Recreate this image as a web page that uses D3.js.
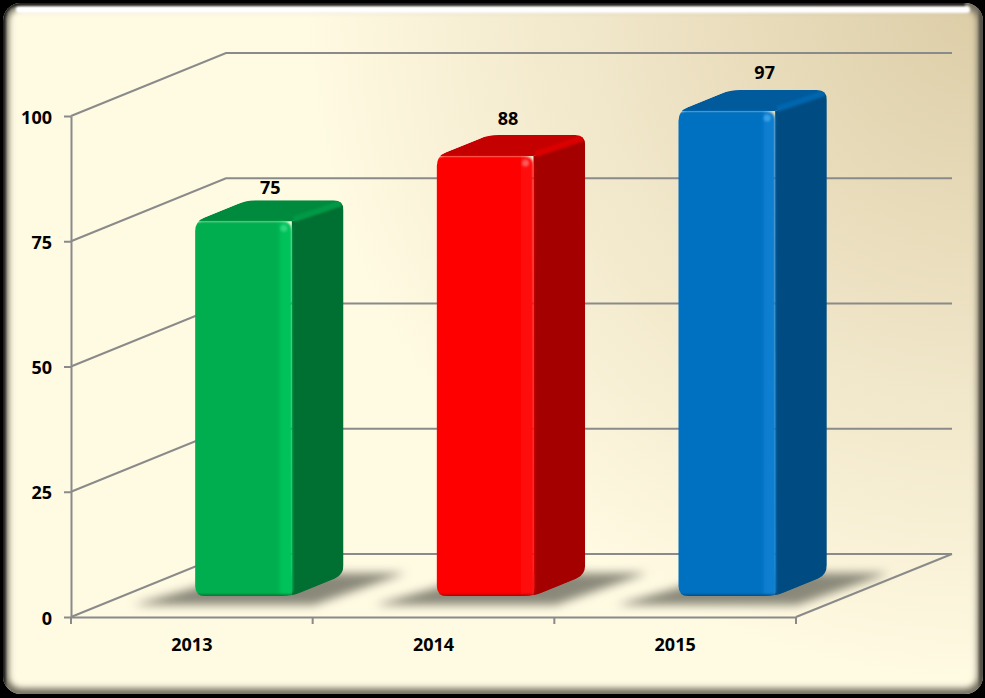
<!DOCTYPE html>
<html>
<head>
<meta charset="utf-8">
<script src="https://cdn.jsdelivr.net/npm/d3@7/dist/d3.min.js"></script>
<style>
html, body { margin: 0; padding: 0; background: #000; overflow: hidden; }
svg { display: block; }
text { font-family: "Noto Sans", sans-serif; font-weight: bold; font-size: 18px; fill: #000; }
</style>
</head>
<body>
<script>
var years = ["2013", "2014", "2015"];
var values = [75, 88, 97];
var yTicks = [0, 25, 50, 75, 100];
var frontColors = ["#00ae50", "#ff0000", "#0070c0"];
var edgeColors = ["#00c25a", "#ff0f0f", "#0a7ed0"];
var glowColors = ["#2fd67f", "#ff5a5a", "#3a9fe8"];
var topColors = ["#008a3e", "#c40000", "#005a9c"];
var rimColors = ["#009a46", "#dc0000", "#0066ae"];
var sideColors = ["#006f32", "#a50000", "#004c82"];
// the data labels do not sit centred over the boxes in the picture
var labelShift = [1, -3, 12];
var labelGap = [6, 10, 11];

var w = 985;
var h = 698;
var depthX = 155;   // floor depth of the 3d box
var depthY = 63;
var barDepth = 1 / 3;
var r = 10;

var svg = d3.select("body").append("svg").attr("width", w).attr("height", h);
var defs = svg.append("defs");

var xScale = d3.scaleBand().domain(years).range([71, 796])
               .paddingInner(0.6).paddingOuter(0.3);
var yScale = d3.scaleLinear().domain([0, 100]).range([617, 116]);

// background
var bg = defs.append("radialGradient").attr("id", "bg")
  .attr("gradientUnits", "userSpaceOnUse")
  .attr("cx", 985).attr("cy", 0).attr("r", 680);
bg.append("stop").attr("offset", "0").attr("stop-color", "#dccdA6");
bg.append("stop").attr("offset", "0.5").attr("stop-color", "#eee3c5");
bg.append("stop").attr("offset", "1").attr("stop-color", "#fffae2");

function blur(id, sd) {
  defs.append("filter").attr("id", id)
    .attr("x", "-50%").attr("y", "-50%").attr("width", "200%").attr("height", "200%")
    .append("feGaussianBlur").attr("stdDeviation", sd);
}
blur("b3", 3);
blur("b2", 2);
blur("b1", 1);
blur("shadowBlur", 5);

defs.append("clipPath").attr("id", "panelClip")
  .append("rect").attr("x", 3).attr("y", 3).attr("width", 980).attr("height", 691).attr("rx", 18);

// frame
svg.append("rect").attr("x", 3).attr("y", 3).attr("width", 980).attr("height", 691)
   .attr("rx", 18).attr("fill", "url(#bg)");
var bevel = svg.append("g").attr("clip-path", "url(#panelClip)");
// wide soft rim, lower and right sides
bevel.append("rect").attr("x", 3).attr("y", 3).attr("width", 980).attr("height", 691).attr("rx", 18)
     .attr("fill", "none").attr("stroke", "#6e6a5c").attr("stroke-width", 11).attr("filter", "url(#b3)");
// white highlight along the top
bevel.append("rect").attr("x", 16).attr("y", 6).attr("width", 954).attr("height", 7).attr("rx", 3)
     .attr("fill", "#fff").attr("filter", "url(#b1)");
// hard dark edge top and left
bevel.append("path").attr("fill", "none").attr("stroke", "#1a1a1a").attr("stroke-width", 5).attr("filter", "url(#b1)")
     .attr("d", "M3,694V21Q3,3 21,3H965");
bevel.append("rect").attr("x", 979).attr("y", 0).attr("width", 6).attr("height", 698)
     .attr("fill", "#55524a").attr("filter", "url(#b1)");

// walls
var grid = svg.append("g").attr("stroke", "#8a8a8a").attr("stroke-width", 2).attr("fill", "none");
yTicks.forEach(function(d) {
  grid.append("path").attr("d", d3.line()([
    [xScale.range()[0], yScale(d)],
    [xScale.range()[0] + depthX, yScale(d) - depthY],
    [xScale.range()[1] + depthX + 1, yScale(d) - depthY]
  ]));
});
grid.append("path").attr("d", d3.line()([
  [xScale.range()[1], yScale(0)],
  [xScale.range()[1] + depthX + 1, yScale(0) - depthY]
]));

// axes
var yAxis = d3.axisLeft(yScale).tickValues(yTicks).tickSize(7).tickSizeOuter(0).tickPadding(12);
var xAxis = d3.axisBottom(xScale).tickSize(0).tickPadding(21);
var yG = svg.append("g").attr("transform", "translate(" + xScale.range()[0] + ",0)").call(yAxis);
var xG = svg.append("g").attr("transform", "translate(0," + yScale(0) + ")").call(xAxis);
[yG, xG].forEach(function(g) {
  g.attr("font-family", null).attr("font-size", null);
  g.selectAll("path,line").attr("stroke", "#8a8a8a").attr("stroke-width", 2);
  g.selectAll("text").attr("fill", null);
});
yG.selectAll("text").attr("dy", "0.4em");
d3.range(0, years.length + 1).forEach(function(i) {
  xG.append("line")
    .attr("x1", xScale.range()[0] + i * xScale.step()).attr("x2", xScale.range()[0] + i * xScale.step())
    .attr("y1", 0).attr("y2", 7)
    .attr("stroke", "#8a8a8a").attr("stroke-width", 2);
});

// rounded polygon
function roundPoly(pts, rad) {
  var n = pts.length, s = "";
  pts.forEach(function(p, i) {
    var a = pts[(i + n - 1) % n], b = pts[(i + 1) % n];
    var la = Math.hypot(a[0] - p[0], a[1] - p[1]), lb = Math.hypot(b[0] - p[0], b[1] - p[1]);
    var ra = Math.min(rad, la / 2), rb = Math.min(rad, lb / 2);
    s += (i ? "L" : "M") + (p[0] + (a[0] - p[0]) * ra / la) + "," + (p[1] + (a[1] - p[1]) * ra / la);
    s += "Q" + p[0] + "," + p[1] + " " + (p[0] + (b[0] - p[0]) * rb / lb) + "," + (p[1] + (b[1] - p[1]) * rb / lb);
  });
  return s + "Z";
}

var dx = depthX * barDepth;
var dy = depthY * barDepth;

function box(d, i) {
  var x0 = xScale(years[i]) + dx;
  var x1 = x0 + xScale.bandwidth();
  var yT = yScale(d) - dy + 1;
  var yB = yScale(0) - dy;
  return { i: i, x0: x0, x1: x1, yT: yT, yB: yB };
}
var boxes = values.map(box);

// floor shadows
svg.append("g").selectAll("path").data(boxes).enter().append("path")
  .attr("d", function(b) {
    return d3.line()([
      [b.x0 - 62, b.yB + 9],
      [b.x1 + 22, b.yB + 9],
      [b.x1 + dx + 62, b.yB - dy - 2],
      [b.x0 + dx, b.yB - dy - 2]
    ]) + "Z";
  })
  .attr("fill", "#8a8879").attr("filter", "url(#shadowBlur)");

boxes.forEach(function(b) {
  var i = b.i;
  var clipId = "bar" + i;
  var outline = [[b.x0, b.yT], [b.x0 + dx, b.yT - dy], [b.x1 + dx, b.yT - dy], [b.x1 + dx, b.yB - dy], [b.x1, b.yB], [b.x0, b.yB]];
  defs.append("clipPath").attr("id", clipId).append("path").attr("d", roundPoly(outline, r));

  var edge = defs.append("linearGradient").attr("id", "edge" + i);
  edge.append("stop").attr("offset", "0").attr("stop-color", frontColors[i]);
  edge.append("stop").attr("offset", "0.84").attr("stop-color", frontColors[i]);
  edge.append("stop").attr("offset", "0.9").attr("stop-color", edgeColors[i]);
  edge.append("stop").attr("offset", "1").attr("stop-color", edgeColors[i]);

  var g = svg.append("g").attr("clip-path", "url(#" + clipId + ")");
  g.append("path").attr("fill", topColors[i])
    .attr("d", d3.line()([[b.x0, b.yT], [b.x0 + dx, b.yT - dy], [b.x1 + dx, b.yT - dy], [b.x1, b.yT]]) + "Z");
  g.append("path").attr("fill", sideColors[i])
    .attr("d", d3.line()([[b.x1, b.yT], [b.x1 + dx, b.yT - dy], [b.x1 + dx, b.yB - dy], [b.x1, b.yB]]) + "Z");
  // soft band between top and side, and along the back edge
  g.append("path").attr("fill", "none").attr("stroke", rimColors[i]).attr("stroke-width", 6)
    .attr("filter", "url(#b1)")
    .attr("d", d3.line()([[b.x1 + 2, b.yT - 2], [b.x1 + dx - 2, b.yT - dy + 3]]));
  g.append("path").attr("fill", "url(#edge" + i + ")").attr("filter", "url(#b1)")
    .attr("d", roundPoly([[b.x0 - 3, b.yT], [b.x1, b.yT], [b.x1 + 1, b.yB + 3], [b.x0 - 3, b.yB + 3]], r));
  // dark lower rim
  g.append("path").attr("fill", "none").attr("stroke", sideColors[i]).attr("stroke-width", 3)
    .attr("filter", "url(#b1)")
    .attr("d", d3.line()([[b.x0 - 2, b.yB], [b.x1, b.yB], [b.x1 + dx, b.yB - dy]]));
  // lighter top rim of the front face and the glint at its corner
  g.append("path").attr("fill", "none").attr("stroke", edgeColors[i]).attr("stroke-width", 4)
    .attr("filter", "url(#b1)")
    .attr("d", d3.line()([[b.x0 + 2, b.yT + 3], [b.x1 - 3, b.yT + 3]]));
  g.append("circle").attr("cx", b.x1 - 8).attr("cy", b.yT + 7).attr("r", 3.5)
    .attr("fill", glowColors[i]).attr("filter", "url(#b1)");
});

// labels above the boxes
svg.append("g").selectAll("text").data(boxes).enter().append("text")
  .attr("text-anchor", "middle")
  .attr("x", function(b) { return (b.x0 + b.x1 + dx) / 2 + labelShift[b.i]; })
  .attr("y", function(b) { return b.yT - dy - labelGap[b.i]; })
  .text(function(b) { return values[b.i]; });
</script>
</body>
</html>
